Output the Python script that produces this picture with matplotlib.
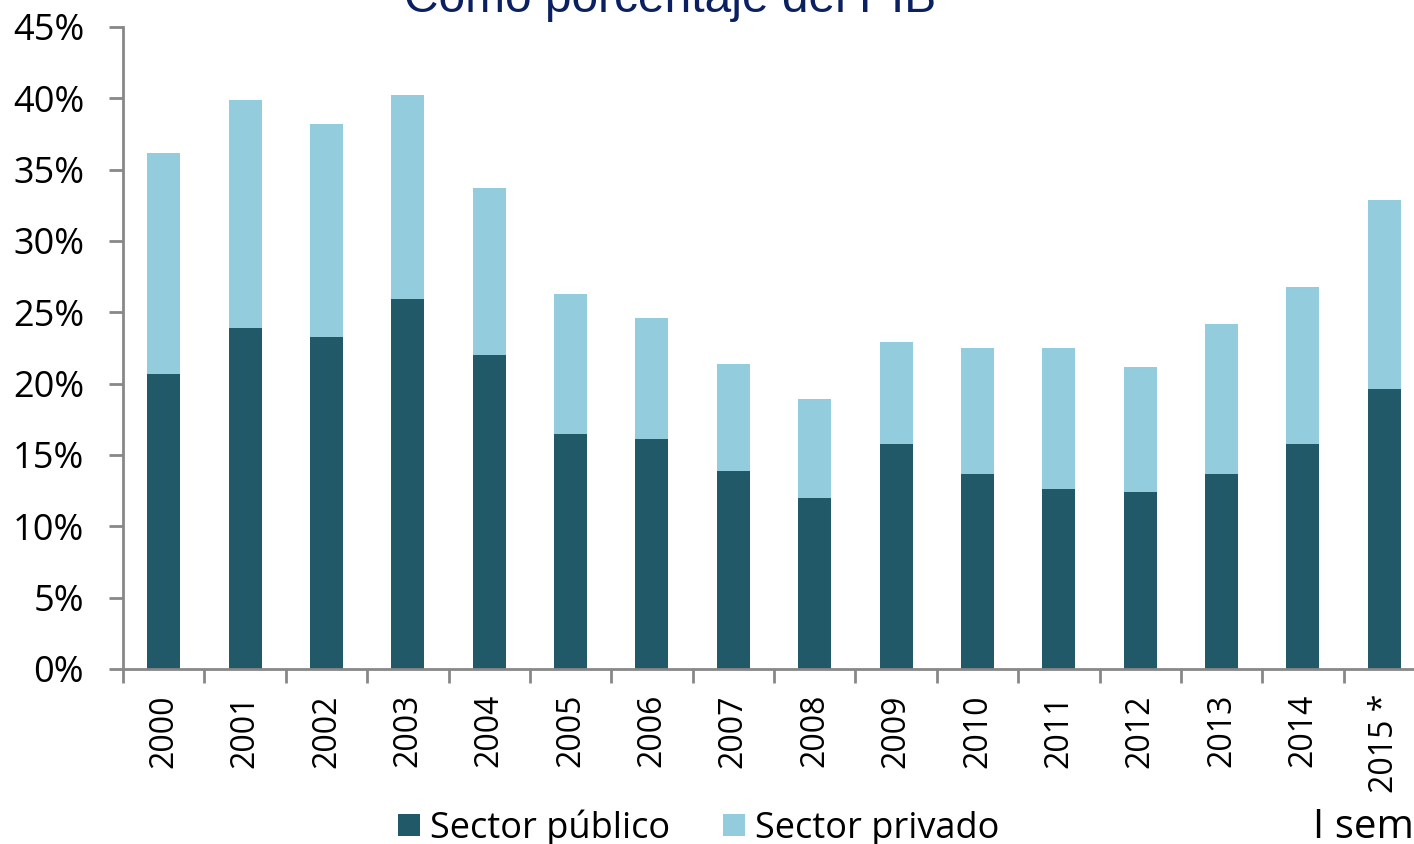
import matplotlib
matplotlib.use("Agg")
import matplotlib.pyplot as plt
from matplotlib.patches import Patch
from matplotlib.ticker import FuncFormatter, FixedLocator
import numpy as np

years = ["2000", "2001", "2002", "2003", "2004", "2005", "2006", "2007",
         "2008", "2009", "2010", "2011", "2012", "2013", "2014", "2015 *"]
total = [36.2, 39.9, 38.2, 40.2, 33.7, 26.3, 24.6, 21.4,
         18.9, 22.9, 22.5, 22.5, 21.2, 24.2, 26.8, 32.9]
publico = [20.7, 23.9, 23.3, 25.9, 22.0, 16.5, 16.1, 13.9,
           12.0, 15.8, 13.7, 12.6, 12.4, 13.7, 15.8, 19.6]
privado = [t - p for t, p in zip(total, publico)]
yticks = [0, 5, 10, 15, 20, 25, 30, 35, 40, 45]

c_pub = "#215968"
c_priv = "#93CDDD"
gray = "#888888"
fnt = "Open Sans"

fig = plt.figure(figsize=(14.14, 8.44), dpi=100)
ax = fig.add_axes([123/1414, 1-669/844, (1425-123)/1414, (669-27)/844])

x = np.arange(len(years))
w = 0.405
ax.bar(x, publico, w, color=c_pub, label="Sector público")
ax.bar(x, privado, w, bottom=publico, color=c_priv, label="Sector privado")

ax.set_xlim(-0.5, len(years) - 0.5)
ax.set_ylim(0, 45)
ax.set_yticks(yticks)
ax.yaxis.set_major_formatter(FuncFormatter(lambda v, p: f"{v:.0f}%"))
ax.set_xticks(x)
ax.set_xticklabels(years, rotation=90, fontfamily=fnt, fontsize=23)
ax.xaxis.set_minor_locator(FixedLocator(np.arange(-0.5, len(years), 1.0)))
ax.tick_params(axis="x", which="major", length=0, pad=18)
ax.tick_params(axis="x", which="minor", length=10, width=2, color=gray, direction="out")
ax.tick_params(axis="y", length=10, width=2, color=gray, direction="out", pad=18)
for lab in ax.get_yticklabels():
    lab.set_fontfamily(fnt)
    lab.set_fontsize(26)

for s in ["top", "right"]:
    ax.spines[s].set_visible(False)
for s in ["left", "bottom"]:
    ax.spines[s].set_color(gray)
    ax.spines[s].set_linewidth(2)

fig.text(670/1414, 1-12/844, "Como porcentaje del PIB", ha="center", va="baseline",
         fontsize=34.5, color="#0A2060", fontfamily="Liberation Sans")

handles = [Patch(facecolor=c_pub, label="Sector público"),
           Patch(facecolor=c_priv, label="Sector privado")]
fig.legend(handles=handles, loc="center", bbox_to_anchor=(699/1414, 1-828/844),
           ncol=2, frameon=False, prop={"family": fnt, "size": 26},
           handlelength=0.6, handleheight=0.6, handletextpad=0.28,
           columnspacing=1.47, borderpad=0, borderaxespad=0)

fig.text(1414/1414, 1-828/844, "I sem", ha="right", va="center",
         fontsize=29, fontfamily=fnt, color="black")

fig.savefig("out.png", dpi=100)
